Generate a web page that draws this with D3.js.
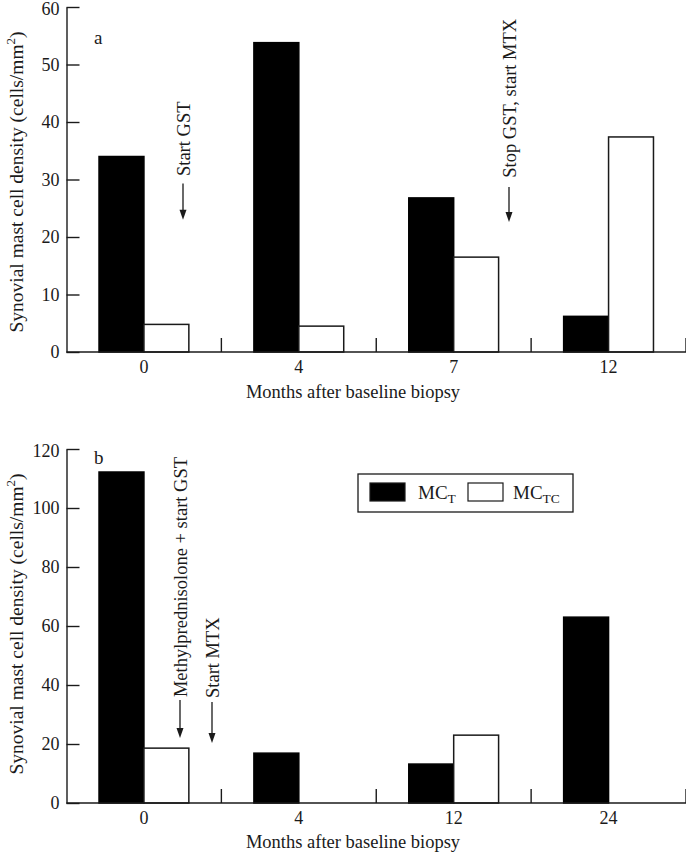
<!DOCTYPE html>
<html><head><meta charset="utf-8">
<script src="https://cdn.jsdelivr.net/npm/d3@7/dist/d3.min.js"></script>
<style>
html,body{margin:0;padding:0;background:#fff;}
svg{display:block;font-family:"Liberation Serif","Times New Roman",serif;}
</style></head>
<body>
<script>
// ---- data ----
const seriesKeys = ["MCT", "MCTC"];
const categoriesA = ["0", "4", "7", "12"];
const mctA  = [34, 53.8, 26.8, 6.2];
const mctcA = [4.8, 4.5, 16.5, 37.4];
const yTicksA = [0, 10, 20, 30, 40, 50, 60];

const categoriesB = ["0", "4", "12", "24"];
const mctB  = [112.2, 16.9, 13.2, 63];
const mctcB = [18.6, 0, 23, 0];
const yTicksB = [0, 20, 40, 60, 80, 100, 120];

const xTitle = "Months after baseline biopsy";

const W = 686, H = 853;
const svg = d3.select("body").append("svg").attr("width", W).attr("height", H);
const ink = "#1a1a1a";
const FF = '"Liberation Serif","Times New Roman",serif';

function panel(opts){
  const {cats, mct, mctc, ticks, yTop, yBot, letter, letterY, titleCY, xTitleY, annots} = opts;
  const g = svg.append("g");
  const x = d3.scaleBand().domain(cats).range([66.5, 686]).paddingInner(0).paddingOuter(0);
  const y = d3.scaleLinear().domain([0, d3.max(ticks)]).range([yBot, yTop]);
  const bw = x.bandwidth();
  const sub = d3.scaleBand().domain(seriesKeys).range([-bw*0.29, bw*0.29]);

  // bars
  const rows = cats.map((c,i)=>({cat:c, MCT:mct[i], MCTC:mctc[i]}));
  rows.forEach(r=>{
    seriesKeys.forEach(k=>{
      if (r[k] <= 0) return;
      const x0 = x(r.cat) + bw/2 + sub(k);
      g.append("rect")
        .attr("x", x0).attr("y", y(r[k]))
        .attr("width", sub.bandwidth()).attr("height", y(0) - y(r[k]))
        .attr("fill", k === "MCT" ? "#000" : "#fff")
        .attr("stroke", k === "MCT" ? "#000" : ink)
        .attr("stroke-width", 1.5);
    });
  });

  // y axis
  const ya = d3.axisLeft(y).tickValues(ticks).tickSize(-13).tickSizeOuter(0).tickPadding(7);
  const yg = g.append("g").attr("transform", `translate(${x.range()[0]},0)`).call(ya);
  yg.selectAll("path,line").attr("stroke", ink).attr("stroke-width", 1.4);
  yg.selectAll("text").attr("font-size", 18).attr("fill", ink).attr("font-family", FF)
    .attr("dy", d => d === d3.max(ticks) ? "0.42em" : "0.32em");

  // x axis: baseline + separators + labels
  g.append("line").attr("x1", x.range()[0]).attr("x2", x.range()[1])
    .attr("y1", y(0)).attr("y2", y(0)).attr("stroke", ink).attr("stroke-width", 1.4);
  cats.forEach((c,i)=>{
    const xe = x(c) + bw;
    g.append("line").attr("x1", xe).attr("x2", xe)
      .attr("y1", y(0)).attr("y2", y(0) - 14).attr("stroke", ink).attr("stroke-width", 1.4);
  });
  const xa = d3.axisBottom(x).tickSize(0).tickPadding(8);
  const xg = g.append("g").attr("transform", `translate(0,${y(0)})`).call(xa);
  xg.select("path").remove();
  xg.selectAll("text").attr("font-size", 18).attr("fill", ink).attr("font-family", FF);

  g.append("text").attr("x", 353).attr("y", xTitleY).attr("text-anchor", "middle")
    .attr("font-size", 18.5).attr("fill", ink).text(xTitle);

  // y title
  const yt = g.append("text").attr("transform", `translate(23,${titleCY}) rotate(-90)`)
    .attr("text-anchor", "middle").attr("font-size", 19.5).attr("fill", ink);
  yt.append("tspan").text("Synovial mast cell density (cells/mm");
  yt.append("tspan").attr("dy", -8).attr("font-size", 13).text("2");
  yt.append("tspan").attr("dy", 8).text(")");

  // panel letter
  g.append("text").attr("x", 94).attr("y", letterY).attr("font-size", 19).attr("fill", ink).text(letter);

  // annotations (rotated text with downward arrows)
  annots.forEach(a=>{
    const ax = a.x;
    g.append("line").attr("x1", ax).attr("x2", ax)
      .attr("y1", y(a.lineFrom)).attr("y2", y(a.tip) - 9)
      .attr("stroke", ink).attr("stroke-width", 1.3);
    const ty = y(a.tip);
    g.append("path").attr("d", `M${ax-3.5},${ty-10}L${ax+3.5},${ty-10}L${ax},${ty}Z`).attr("fill", ink);
    g.append("text").attr("transform", `translate(${ax+6.5},${y(a.textFrom)}) rotate(-90)`)
      .attr("font-size", 18.5).attr("fill", ink).text(a.label);
  });
  return {x, y};
}

panel({
  cats: categoriesA, mct: mctA, mctc: mctcA, ticks: yTicksA,
  yTop: 7, yBot: 352, letter: "a", letterY: 44, titleCY: 182, xTitleY: 398,
  annots: [
    {x: 183, label: "Start GST", textFrom: 30.6, lineFrom: 29.3, tip: 23},
    {x: 509, label: "Stop GST, start MTX", textFrom: 30.3, lineFrom: 28.7, tip: 22.6}
  ]
});

panel({
  cats: categoriesB, mct: mctB, mctc: mctcB, ticks: yTicksB,
  yTop: 449, yBot: 803, letter: "b", letterY: 464, titleCY: 624, xTitleY: 848,
  annots: [
    {x: 180, label: "Methylprednisolone + start GST", textFrom: 35.9, lineFrom: 34.9, tip: 22},
    {x: 212, label: "Start MTX", textFrom: 35.6, lineFrom: 34.2, tip: 20.3}
  ]
});

// legend
const lg = svg.append("g");
lg.append("rect").attr("x", 358).attr("y", 474).attr("width", 215).attr("height", 38)
  .attr("fill", "#fff").attr("stroke", ink).attr("stroke-width", 1.3);
const legendItems = [
  {key: "MCT", main: "MC", sub: "T", sx: 370, tx: 418},
  {key: "MCTC", main: "MC", sub: "TC", sx: 468, tx: 513}
];
legendItems.forEach(it=>{
  lg.append("rect").attr("x", it.sx).attr("y", 483).attr("width", 35).attr("height", 18)
    .attr("fill", it.key === "MCT" ? "#000" : "#fff").attr("stroke", ink).attr("stroke-width", 1.2);
  const t = lg.append("text").attr("x", it.tx).attr("y", 499).attr("font-size", 19).attr("fill", ink);
  t.append("tspan").text(it.main);
  t.append("tspan").attr("dy", 4).attr("font-size", 13.5).text(it.sub);
});
</script>
</body></html>
